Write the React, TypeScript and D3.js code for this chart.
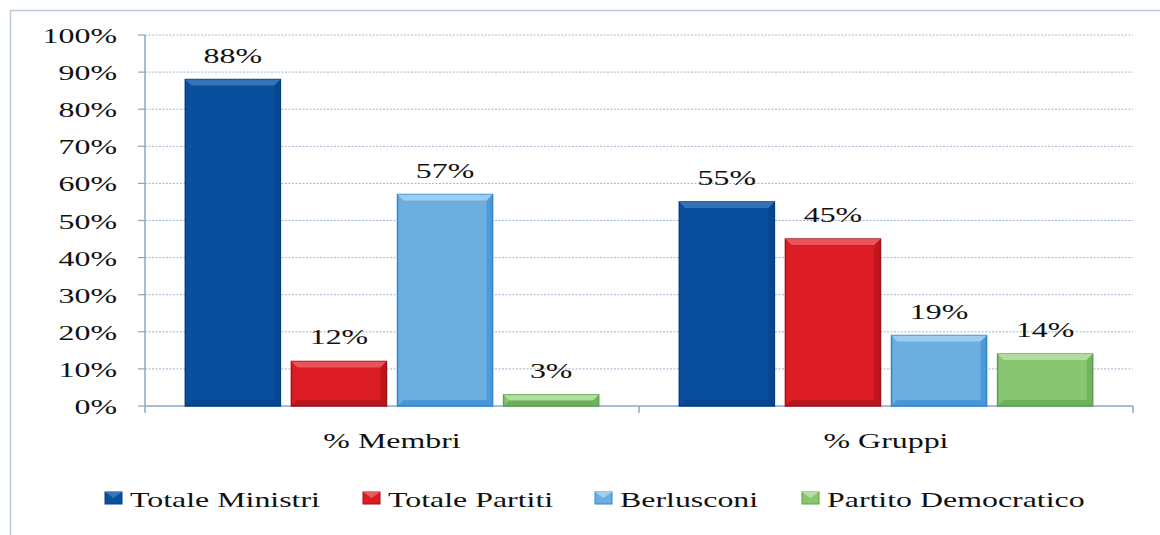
import React from "react";
import * as d3 from "d3";

const categories = ["% Membri", "% Gruppi"];
const seriesNames = ["Totale Ministri", "Totale Partiti", "Berlusconi", "Partito Democratico"];
const totaleMinistri = [88, 55];
const totalePartiti = [12, 45];
const berlusconi = [57, 19];
const partitoDemocratico = [3, 14];
const yTicks = [0, 10, 20, 30, 40, 50, 60, 70, 80, 90, 100];

const seriesValues = [totaleMinistri, totalePartiti, berlusconi, partitoDemocratico];

const colors = ["#0a4f9e", "#db1c24", "#6caee0", "#88c672"];
const edge = ["#063f80", "#9e1218", "#2f86cf", "#5aa14a"];
const light = ["#3a76ba", "#ea5a5f", "#a3d0f0", "#b6e0a2"];

const W = 1160, H = 535;
const m = { left: 145, right: 1133, top: 35, bottom: 406 };
const FONT = "Liberation Serif, Times New Roman, Times, DejaVu Serif, serif";
const SX = 1.45;

function SText({ x, y, anchor = "start", size = 22, children }: any) {
  return (
    <text
      transform={`translate(${x},${y}) scale(${SX},1)`}
      textAnchor={anchor}
      fontFamily={FONT}
      fontSize={size}
      fill="#111"
    >
      {children}
    </text>
  );
}

export default function App() {
  const x0 = d3.scaleBand().domain(categories).range([m.left, m.right]).paddingInner(0).paddingOuter(0);
  const x1 = d3.scaleBand().domain(seriesNames).range([0, x0.bandwidth()]).paddingInner(0.104).paddingOuter(0.38);
  const y = d3.scaleLinear().domain([0, 100]).range([m.bottom, m.top]);
  const legendSq = [105, 363, 595, 802];
  return (
    <svg width={W} height={H} style={{ position: "absolute", left: 0, top: 0, fontFamily: FONT }}>
      <rect x={0} y={0} width={W} height={H} fill="#fff" />
      <line x1={10} y1={10.5} x2={W} y2={10.5} stroke="#b9c9dc" strokeWidth={1.5} />
      <line x1={10.5} y1={10} x2={10.5} y2={H} stroke="#b9c9dc" strokeWidth={1.5} />
      {yTicks.map((t) => (
        <g key={t}>
          {t > 0 && (
            <line x1={m.left} x2={m.right} y1={y(t)} y2={y(t)} stroke="#9fb6cf" strokeWidth={1} strokeDasharray="2,1.5" />
          )}
          <line x1={m.left - 7} x2={m.left} y1={y(t)} y2={y(t)} stroke="#8ea6c0" strokeWidth={1.2} />
          <SText x={117} y={y(t) + 8} anchor="end">{t}%</SText>
        </g>
      ))}
      <line x1={m.left} x2={m.left} y1={m.top} y2={m.bottom} stroke="#8ea6c0" strokeWidth={1.5} />
      <line x1={m.left} x2={m.right} y1={m.bottom} y2={m.bottom} stroke="#8ea6c0" strokeWidth={1.5} />
      {[0, 1, 2].map((i) => {
        const xx = m.left + i * x0.bandwidth();
        return <line key={i} x1={xx} x2={xx} y1={m.bottom} y2={m.bottom + 7} stroke="#8ea6c0" strokeWidth={1.5} />;
      })}
      {categories.map((c) => (
        <SText key={c} x={(x0(c) as number) + x0.bandwidth() / 2} y={448} anchor="middle">{c}</SText>
      ))}
      {seriesNames.map((s, si) =>
        categories.map((c, ci) => {
          const v = seriesValues[si][ci];
          const bx = (x0(c) as number) + (x1(s) as number);
          const bw = x1.bandwidth();
          const by = y(v);
          const bh = m.bottom - by;
          const b = Math.min(6, bh / 2);
          return (
            <g key={s + c}>
              <rect x={bx} y={by} width={bw} height={bh} fill={colors[si]} stroke={edge[si]} strokeWidth={1.5} />
              <polygon points={`${bx},${by} ${bx + bw},${by} ${bx + bw - b},${by + b} ${bx + b},${by + b}`} fill={light[si]} opacity={0.9} />
              <polygon points={`${bx + bw},${by} ${bx + bw},${by + bh} ${bx + bw - b},${by + bh - b} ${bx + bw - b},${by + b}`} fill={edge[si]} opacity={0.5} />
              <polygon points={`${bx},${by + bh} ${bx + bw},${by + bh} ${bx + bw - b},${by + bh - b} ${bx + b},${by + bh - b}`} fill={edge[si]} opacity={0.6} />
              <SText x={bx + bw / 2} y={by - 17} anchor="middle">{v}%</SText>
            </g>
          );
        })
      )}
      {seriesNames.map((s, si) => (
        <g key={s}>
          <rect x={legendSq[si]} y={492} width={17} height={12} fill={colors[si]} stroke={edge[si]} strokeWidth={1} />
          <polygon points={`${legendSq[si]},492 ${legendSq[si] + 17},492 ${legendSq[si] + 8.5},498`} fill={light[si]} />
          <SText x={legendSq[si] + 25} y={507}>{s}</SText>
        </g>
      ))}
    </svg>
  );
}
